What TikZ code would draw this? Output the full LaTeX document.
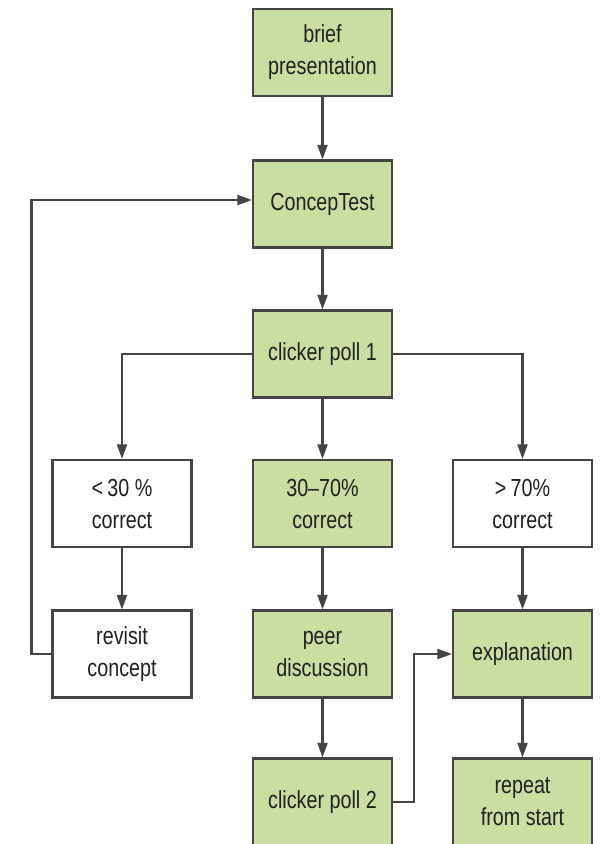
\documentclass[tikz,border=0pt]{standalone}
\usepackage{fontspec}
\setmainfont[FakeStretch=0.8]{Liberation Sans}
\usetikzlibrary{arrows.meta}
\definecolor{boxgreen}{RGB}{203,222,162}
\definecolor{linegray}{RGB}{68,68,68}
\definecolor{textgray}{RGB}{32,32,32}
\tikzset{
	stepbox/.style={draw=linegray, line width=1.8pt, minimum width=104pt, minimum height=65pt, inner sep=0pt, align=center, text=textgray, font=\fontsize{18.5}{24}\selectfont},
	greenbox/.style={stepbox, fill=boxgreen},
	whitebox/.style={stepbox, fill=white},
	flow/.style={draw=linegray, line width=1.7pt, -{Triangle[length=11pt,width=7.5pt]}}
}
\begin{document}
\begin{tikzpicture}[x=0.75pt,y=0.75pt,yscale=-1,xscale=1]
	\useasboundingbox (0,0) rectangle (601,844);
	% boxes
	\node[greenbox] (brief) at (322.5,52.5) {brief\\presentation};
	\node[greenbox] (concep) at (322.5,204) {ConcepTest};
	\node[greenbox] (pollone) at (322.5,354) {clicker poll 1};
	\node[whitebox] (low) at (122,503.5) {<\,30 \%\\correct};
	\node[greenbox] (mid) at (322.5,503.5) {30--70\%\\correct};
	\node[whitebox] (high) at (522.5,503.5) {>\,70\%\\correct};
	\node[whitebox] (revisit) at (122,654) {revisit\\concept};
	\node[greenbox] (peer) at (322.5,654) {peer\\discussion};
	\node[greenbox] (expl) at (522.5,654) {explanation};
	\node[greenbox] (polltwo) at (322.5,802) {clicker poll 2};
	\node[greenbox] (repeat) at (522.5,802) {repeat\\from start};
	% arrows
	\draw[flow] (brief) -- (concep);
	\draw[flow] (concep) -- (pollone);
	\draw[flow] (pollone) -- (mid);
	\draw[flow] (pollone.west) -| (low);
	\draw[flow] (pollone.east) -| (high);
	\draw[flow] (low) -- (revisit);
	\draw[flow] (mid) -- (peer);
	\draw[flow] (high) -- (expl);
	\draw[flow] (peer) -- (polltwo);
	\draw[flow] (expl) -- (repeat);
	\draw[flow] (revisit.west) -- ++(-20,0) |- ([yshift=-3pt]concep.west);
	\draw[flow] (polltwo.east) -- ++(21,0) |- (expl.west);
\end{tikzpicture}
\end{document}
